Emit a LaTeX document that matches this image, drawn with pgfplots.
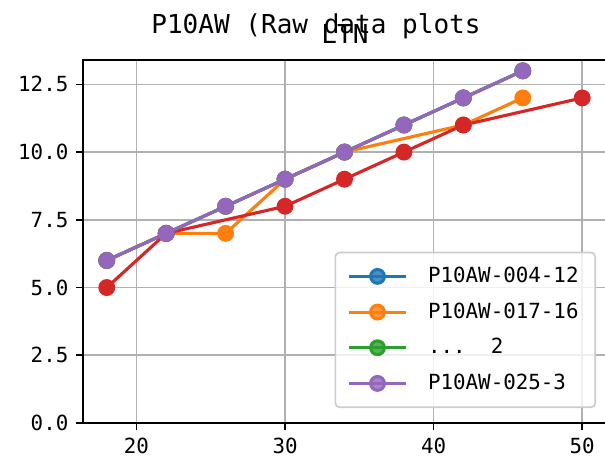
\documentclass[border=0pt]{standalone}
\usepackage{fontspec}
\setmainfont{DejaVu Sans Mono}
\usepackage{pgfplots}
\pgfplotsset{compat=1.18}

\definecolor{tblue}{HTML}{1F77B4}
\definecolor{torange}{HTML}{FF7F0E}
\definecolor{tgreen}{HTML}{2CA02C}
\definecolor{tred}{HTML}{D62728}
\definecolor{tpurple}{HTML}{9467BD}

\begin{document}
\begin{tikzpicture}
\begin{axis}[
    at={(0pt,0pt)}, anchor=south west,
    scale only axis,
    width=251.04pt, height=174.24pt,
    xmin=16.4, xmax=51.6,
    ymin=0, ymax=13.4,
    xtick={20,30,40,50},
    ytick={0,2.5,5,7.5,10,12.5},
    grid=major,
    major grid style={color=black!31, line width=0.8pt},
    axis line style={line width=0.8pt},
    tick align=outside,
    major tick length=3.5pt,
    tick style={black, line width=0.8pt},
    xtick pos=bottom, ytick pos=left,
    ticklabel style={font=\fontsize{10}{12}\selectfont},
    /pgf/number format/assume math mode=true,
    yticklabel style={/pgf/number format/.cd, fixed, fixed zerofill, precision=1},
    every axis plot/.append style={line width=1.5pt, mark=*, mark size=3.3pt},
    legend cell align=left,
    legend style={at={(0.981,0.041)}, anchor=south east,
        font=\fontsize{10}{12}\selectfont,
        draw=black!20, rounded corners=2pt, fill=white, fill opacity=0.8,
        text opacity=1, inner xsep=6pt, inner ysep=5pt,
        row sep=4.2pt, column sep=8pt, line width=0.8pt},
    legend image code/.code={\draw[mark repeat=2,mark phase=2]
        plot coordinates {(0pt,0pt) (13.5pt,0pt) (27pt,0pt)};},
]
\addplot[color=tblue, mark options={fill=tblue, draw=none}] coordinates {
    (18,6) (22,7) (26,8) (30,9) (34,10) (38,11) (42,12) (46,13)
};
\addlegendentry{P10AW-004-12}
\addplot[color=torange, mark options={fill=torange, draw=none}] coordinates {
    (18,6) (22,7) (26,7) (30,9) (34,10) (42,11) (46,12)
};
\addlegendentry{P10AW-017-16}
\addplot[color=tgreen, mark options={fill=tgreen, draw=none}] coordinates {
    (18,6) (22,7) (26,8) (30,9) (34,10) (38,11) (42,12) (46,13)
};
\addlegendentry{...\ \ 2}
\addplot[color=tred, forget plot, mark options={fill=tred, draw=none}] coordinates {
    (18,5) (22,7) (30,8) (34,9) (38,10) (42,11) (50,12)
};
\addplot[color=tpurple, mark options={fill=tpurple, draw=none}] coordinates {
    (18,6) (22,7) (26,8) (30,9) (34,10) (38,11) (42,12) (46,13)
};
\addlegendentry{P10AW-025-3}
\end{axis}
\node[anchor=base, font=\fontsize{12.5}{14}\selectfont] at (111.84pt,187.2pt) {P10AW (Raw data plots};
\node[anchor=base, font=\fontsize{12.5}{14}\selectfont] at (125.76pt,182.4pt) {LTN};
\pgfresetboundingbox
\path[use as bounding box] (-39.84pt,-20.16pt) rectangle (250.56pt,203.04pt);
\end{tikzpicture}
\end{document}
